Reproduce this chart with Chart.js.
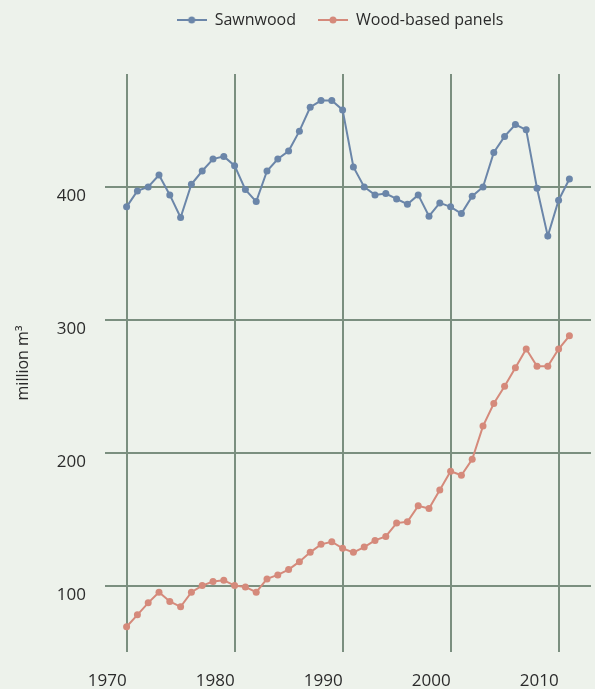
<!DOCTYPE html>
<html>
<head>
<meta charset="utf-8">
<script src="https://cdn.jsdelivr.net/npm/chart.js@4/dist/chart.umd.min.js"></script>
<style>
  html, body { margin: 0; padding: 0; background: #edf2eb; }
  #wrap { width: 595px; height: 689px; position: relative; }
</style>
</head>
<body>
<div id="wrap"><canvas id="myChart"></canvas></div>
<script>
// data (million m3)
const years = [1970, 1971, 1972, 1973, 1974, 1975, 1976, 1977, 1978, 1979,
               1980, 1981, 1982, 1983, 1984, 1985, 1986, 1987, 1988, 1989,
               1990, 1991, 1992, 1993, 1994, 1995, 1996, 1997, 1998, 1999,
               2000, 2001, 2002, 2003, 2004, 2005, 2006, 2007, 2008, 2009,
               2010, 2011]
const sawnwood = [385, 397, 400, 409, 394, 377, 402, 412, 421, 423,
                  416, 398, 389, 412, 421, 427, 442, 460, 465, 465,
                  458, 415, 400, 394, 395, 391, 387, 394, 378, 388,
                  385, 380, 393, 400, 426, 438, 447, 443, 399, 363,
                  390, 406]
const panels = [69, 78, 87, 95, 88, 84, 95, 100, 103, 104,
                100, 99, 95, 105, 108, 112, 118, 125, 131, 133,
                128, 125, 129, 134, 137, 147, 148, 160, 158, 172,
                186, 183, 195, 220, 237, 250, 264, 278, 265, 265,
                278, 288]
const seriesNames = ['Sawnwood', 'Wood-based panels']
const seriesColors = ['#6b86a9', '#d58a7b']
const xTicks = [1970, 1980, 1990, 2000, 2010]
const yTicks = [100, 200, 300, 400]

const gridColor = '#7b8f7f'
const textColor = '#2b2b2b'
const fontFamily = '"Open Sans", "Noto Sans", sans-serif'

// small line+dot icon for the legend
function legendIcon(color) {
    let c = document.createElement('canvas')
    c.width = 30
    c.height = 10
    let g = c.getContext('2d')
    g.strokeStyle = color
    g.lineWidth = 2
    g.beginPath()
    g.moveTo(0, 5)
    g.lineTo(30, 5)
    g.stroke()
    g.fillStyle = color
    g.beginPath()
    g.arc(15, 5, 3.5, 0, Math.PI * 2)
    g.fill()
    return c
}
const icons = seriesColors.map(legendIcon)

// put the legend above the plot area, centred on it
const legendPlace = {
    id: 'legendPlace',
    afterLayout(chart) {
        let lg = chart.legend
        let area = chart.chartArea
        let dx = (area.left + area.right) / 2 - (lg.left + lg.right) / 2 - 8
        lg.left += dx
        lg.right += dx
        lg.top -= 36
        lg.bottom -= 36
    }
}

// fixed axis sizes, no extra label padding
const fixX = scale => {
    scale.height = 37
    scale.paddingLeft = 0
    scale.paddingRight = 0
}
const fixY = scale => {
    scale.width = 105
    scale.paddingTop = 0
    scale.paddingBottom = 0
}

const toPoints = arr => years.map((yr, i) => ({ x: yr, y: arr[i] }))

let ctx = document.getElementById('myChart').getContext('2d')
let myChart = new Chart(ctx, {
    type: 'line',
    data: {
        datasets: [sawnwood, panels].map((arr, i) => ({
            label: seriesNames[i],
            data: toPoints(arr),
            borderColor: seriesColors[i],
            backgroundColor: seriesColors[i],
            borderWidth: 2,
            pointRadius: 3.5,
            pointBorderWidth: 0,
            pointHoverRadius: 4,
            tension: 0
        }))
    },
    options: {
        responsive: true,
        maintainAspectRatio: false,
        animation: false,
        layout: { padding: { top: 26, left: 0, right: 0, bottom: 0 } },
        plugins: {
            legend: {
                position: 'top',
                labels: {
                    usePointStyle: true,
                    pointStyleWidth: 30,
                    padding: 22,
                    color: textColor,
                    font: { family: fontFamily, size: 16 },
                    generateLabels: chart => Chart.defaults.plugins.legend.labels.generateLabels(chart)
                        .map((item, i) => { item.pointStyle = icons[i]; return item })
                }
            },
            tooltip: { enabled: false }
        },
        scales: {
            x: {
                type: 'linear',
                min: 1968,
                max: 2013,
                afterBuildTicks: scale => { scale.ticks = xTicks.map(v => ({ value: v })) },
                afterFit: fixX,
                border: { display: false },
                grid: { color: gridColor, lineWidth: 2, drawTicks: false },
                ticks: {
                    align: 'end',
                    padding: 19,
                    color: textColor,
                    font: { family: fontFamily, size: 17 },
                    callback: v => String(v)
                }
            },
            y: {
                min: 50,
                max: 485,
                afterBuildTicks: scale => { scale.ticks = yTicks.map(v => ({ value: v })) },
                afterFit: fixY,
                border: { display: false },
                grid: { color: gridColor, lineWidth: 2, drawTicks: false },
                title: {
                    display: true,
                    text: 'million m³',
                    color: textColor,
                    font: { family: fontFamily, size: 16 },
                    padding: { top: 14, bottom: 0 }
                },
                ticks: {
                    align: 'start',
                    padding: 19,
                    labelOffset: 1,
                    color: textColor,
                    font: { family: fontFamily, size: 17 }
                }
            }
        }
    },
    plugins: [legendPlace]
})
</script>
</body>
</html>
